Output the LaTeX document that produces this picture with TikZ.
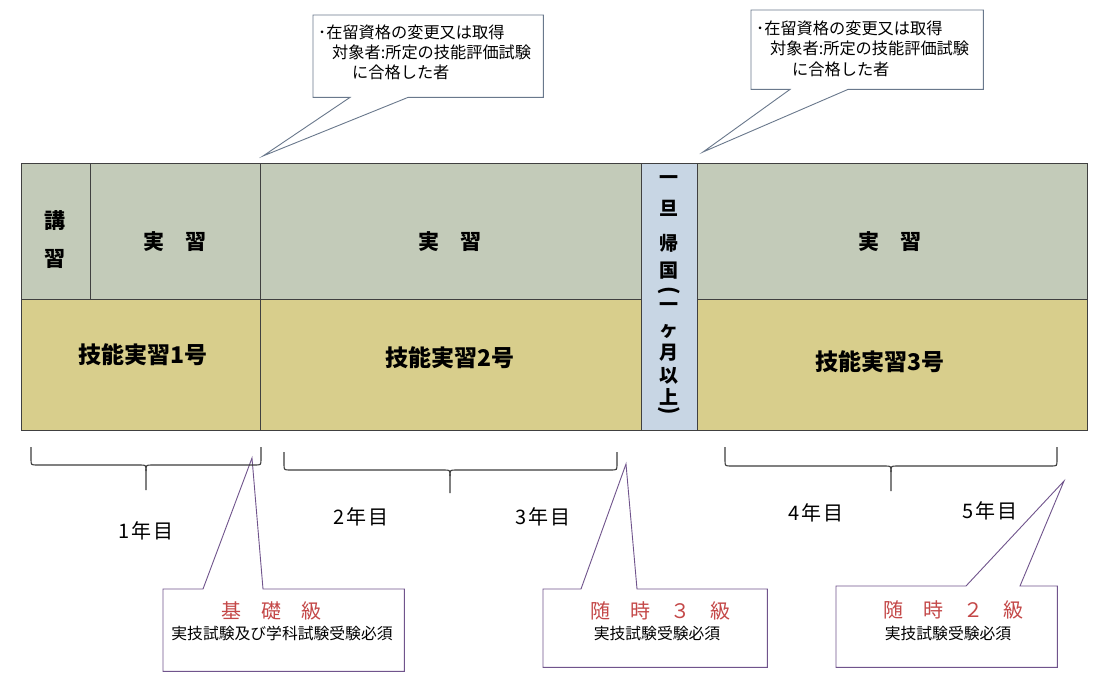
\documentclass[tikz,border=0pt]{standalone}
\usepackage{fontspec}
\setmainfont{Noto Sans CJK JP}
\definecolor{topc}{RGB}{195,203,185}
\definecolor{botc}{RGB}{216,206,140}
\definecolor{bluec}{RGB}{200,214,228}
\definecolor{gridc}{RGB}{64,64,64}
\definecolor{callA}{RGB}{105,120,140}
\definecolor{callB}{RGB}{112,84,140}
\definecolor{redc}{RGB}{196,72,72}
\definecolor{bracec}{RGB}{60,60,60}
\tikzset{
  cell/.style={draw=gridc, line width=1.2pt, anchor=north west, inner sep=0pt},
  topcell/.style={cell, fill=topc},
  botcell/.style={cell, fill=botc},
  bluecell/.style={cell, fill=bluec},
  biglabel/.style={font=\bfseries\fontsize{21}{24}\selectfont, inner sep=0pt},
  numlabel/.style={font=\bfseries\fontsize{23}{26}\selectfont, inner sep=0pt},
  vchar/.style={font=\bfseries\fontsize{19}{22}\selectfont, inner sep=0pt},
  vparen/.style={font=\bfseries\fontsize{21}{24}\selectfont, inner sep=0pt, rotate=-90},
  callbox/.style={anchor=north west, inner sep=0pt},
  calloutA/.style={draw=callA, line width=0.9pt, fill=white, line join=miter},
  calloutB/.style={draw=callB, line width=0.9pt, fill=white, line join=miter},
  calltext/.style={font=\fontsize{16.2}{19}\selectfont, anchor=west, inner sep=0pt},
  gradetext/.style={font=\fontsize{20}{24}\selectfont, text=redc, inner sep=0pt},
  subtext/.style={font=\fontsize{15.8}{18}\selectfont, inner sep=0pt},
  yeartext/.style={font=\fontsize{20}{24}\selectfont, inner sep=0pt},
  bracepath/.style={draw=bracec, line width=1.1pt},
}
\newcommand{\yrs}[1]{#1\hspace{1.5pt}年\hspace{1.5pt}目}
\begin{document}
\begin{tikzpicture}[x=1pt,y=-1pt]
\useasboundingbox (0,0) rectangle (1112,683);
\fill[white] (0,0) rectangle (1112,683);

% ---- top callouts ----
\coordinate (t1) at (263,156);
\node[callbox, minimum width=230pt, minimum height=82pt] (c1) at (313,15) {};
\draw[calloutA] (c1.north west) -- (c1.north east) -- (c1.south east)
  -- ([xshift=95pt]c1.south west) -- (t1) -- ([xshift=37pt]c1.south west)
  -- (c1.south west) -- cycle;
\node[calltext] (c1a) at (318,32) {･在留資格の変更又は取得};
\node[calltext] (c1b) at (332,52) {対象者:所定の技能評価試験};
\node[calltext] (c1c) at (352,72) {に合格した者};

\coordinate (t2) at (703,152);
\node[callbox, minimum width=232pt, minimum height=79pt] (c2) at (751,10) {};
\draw[calloutA] (c2.north west) -- (c2.north east) -- (c2.south east)
  -- ([xshift=97pt]c2.south west) -- (t2) -- ([xshift=39pt]c2.south west)
  -- (c2.south west) -- cycle;
\node[calltext] (c2a) at (756,28) {･在留資格の変更又は取得};
\node[calltext] (c2b) at (770,48) {対象者:所定の技能評価試験};
\node[calltext] (c2c) at (792,69) {に合格した者};

% ---- main band ----
\node[topcell, minimum width=69pt, minimum height=136pt] (kou) at (21,163) {};
\node[topcell, minimum width=170pt, minimum height=136pt] (jis1) at (90,163) {};
\node[topcell, minimum width=381pt, minimum height=136pt] (jis2) at (260,163) {};
\node[topcell, minimum width=390pt, minimum height=136pt] (jis3) at (697,163) {};
\node[botcell, minimum width=239pt, minimum height=131pt] (gou1) at (21,299) {};
\node[botcell, minimum width=381pt, minimum height=131pt] (gou2) at (260,299) {};
\node[botcell, minimum width=390pt, minimum height=131pt] (gou3) at (697,299) {};
\node[bluecell, minimum width=56pt, minimum height=267pt] (kikoku) at (641,163) {};

\node[biglabel] (l1) at (55,221) {講};
\node[biglabel] (l2) at (55,259) {習};
\node[biglabel] (l3) at (175,242) {実　習};
\node[biglabel] (l4) at (450,242) {実　習};
\node[biglabel] (l5) at (890,242) {実　習};
\node[numlabel] (l6) at (143,355) {技能実習1号};
\node[numlabel] (l7) at (450,358) {技能実習2号};
\node[numlabel] (l8) at (880,362) {技能実習3号};

\foreach \c/\yy [count=\i] in {一/180, 旦/208, 帰/243, 国/271, 一/307, ヶ/331, 月/353, 以/376, 上/397}
  \node[vchar] (v\i) at (669,\yy) {\c};
\node[vparen] (vp1) at (669,291) {(};
\node[vparen] (vp2) at (669,411) {)};

% ---- bottom callouts ----
\coordinate (t3) at (252,458);
\node[callbox, minimum width=241pt, minimum height=82pt] (c3) at (163,589) {};
\draw[calloutB] (c3.north west) -- ([xshift=40pt]c3.north west) -- (t3)
  -- ([xshift=100pt]c3.north west) -- (c3.north east) -- (c3.south east)
  -- (c3.south west) -- cycle;
\node[gradetext] (c3a) at (271,611) {基　礎　級};
\node[subtext] (c3b) at (282,633) {実技試験及び学科試験受験必須};

\coordinate (t4) at (626,464);
\node[callbox, minimum width=224pt, minimum height=78pt] (c4) at (543,589) {};
\draw[calloutB] (c4.north west) -- ([xshift=38pt]c4.north west) -- (t4)
  -- ([xshift=94pt]c4.north west) -- (c4.north east) -- (c4.south east)
  -- (c4.south west) -- cycle;
\node[gradetext] (c4a) at (660,611) {随　時　３　級};
\node[subtext] (c4b) at (657,633) {実技試験受験必須};

\coordinate (t5) at (1064,481);
\node[callbox, minimum width=221pt, minimum height=81pt] (c5) at (836,586) {};
\draw[calloutB] (c5.north west) -- ([xshift=130pt]c5.north west) -- (t5)
  -- ([xshift=184pt]c5.north west) -- (c5.north east) -- (c5.south east)
  -- (c5.south west) -- cycle;
\node[gradetext] (c5a) at (953,610) {随　時　２　級};
\node[subtext] (c5b) at (948,633) {実技試験受験必須};

% ---- braces ----
\draw[bracepath] (31,447) -- (31,459) .. controls (31,465) .. (37,465) -- (140,465)
  .. controls (146,465) .. (146,471) -- (146,490);
\draw[bracepath] (146,471) .. controls (146,465) .. (152,465) -- (255,465)
  .. controls (261,465) .. (261,459) -- (261,447);
\draw[bracepath] (284,452) -- (284,464) .. controls (284,470) .. (290,470) -- (444,470)
  .. controls (450,470) .. (450,476) -- (450,493);
\draw[bracepath] (450,476) .. controls (450,470) .. (456,470) -- (611,470)
  .. controls (617,470) .. (617,464) -- (617,452);
\draw[bracepath] (725,447) -- (725,460) .. controls (725,466) .. (731,466) -- (885,466)
  .. controls (891,466) .. (891,472) -- (891,491);
\draw[bracepath] (891,472) .. controls (891,466) .. (897,466) -- (1051,466)
  .. controls (1057,466) .. (1057,460) -- (1057,447);

% ---- year labels ----
\node[yeartext] (y1) at (146,531) {\yrs{1}};
\node[yeartext] (y2) at (361,517) {\yrs{2}};
\node[yeartext] (y3) at (543,517) {\yrs{3}};
\node[yeartext] (y4) at (816,513) {\yrs{4}};
\node[yeartext] (y5) at (990,511) {\yrs{5}};
\end{tikzpicture}
\end{document}
